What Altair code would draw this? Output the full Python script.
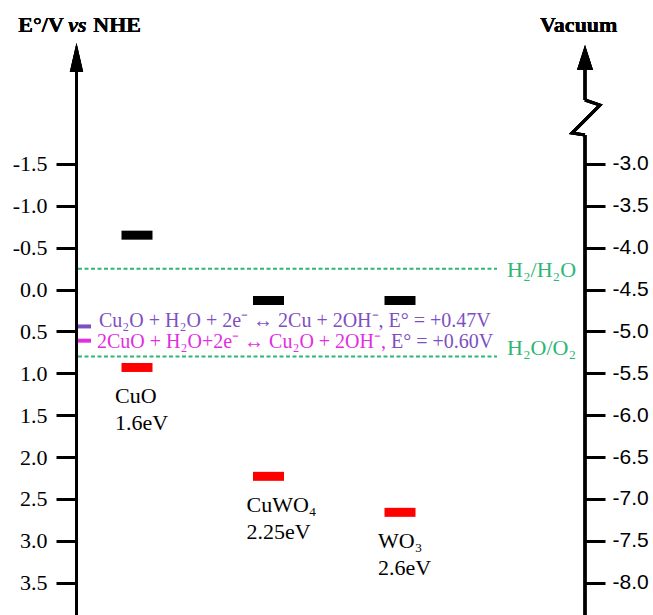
import altair as alt
import pandas as pd

# ---------------- data ----------------
materials = ["CuO", "CuWO₄", "WO₃"]
cb_edges = [-0.65, 0.13, 0.13]          # conduction band edge, V vs NHE
vb_edges = [0.93, 2.23, 2.66]           # valence band edge, V vs NHE
gap_labels = ["1.6eV", "2.25eV", "2.6eV"]

redox_names = ["H₂/H₂O", "H₂O/O₂"]
redox_potentials = [-0.25, 0.80]

reaction_texts = ["Cu₂O + H₂O + 2e⁻ ↔ 2Cu + 2OH⁻, E° = +0.47V",
                  "2CuO + H₂O+2e⁻ ↔ Cu₂O + 2OH⁻,"]
reaction_marks = [0.44, 0.61]
reaction_tail = "E° = +0.60V"

tick_values = [-1.5, -1.0, -0.5, 0.0, 0.5, 1.0, 1.5, 2.0, 2.5, 3.0, 3.5]

# ---------------- tables ----------------
bands = pd.DataFrame({"material": materials, "cb": cb_edges, "vb": vb_edges, "gap": gap_labels})
redox = pd.DataFrame({"name": redox_names, "E": redox_potentials})
reactions = pd.DataFrame({"text": reaction_texts, "E": reaction_marks, "idx": [0, 1]})

W, H = 509, 570
GREEN = "#2DB674"
PURPLE = "#7E4FC2"
MAGENTA = "#E22EE0"
SERIF = "Liberation Serif"

yscale = alt.Scale(domain=[-2.921, 3.886], reverse=True, nice=False, zero=False)
xscale = alt.Scale(type="point", domain=materials, range=[61, 324], padding=0)

left_axis = alt.Axis(orient="left", values=tick_values, domain=False, grid=False, title=None,
                     tickSize=20, tickWidth=3, tickColor="black",
                     labelFont=SERIF, labelFontSize=22, labelColor="black", labelPadding=9,
                     labelExpr="(datum.value < 0 ? '-' : '') + format(abs(datum.value), '.1f')")
right_axis = alt.Axis(orient="right", values=tick_values, domain=False, grid=False, title=None,
                      tickSize=20, tickWidth=3, tickColor="black",
                      labelFont="Liberation Sans", labelFontSize=21, labelColor="black", labelPadding=7,
                      labelExpr="'-' + format(4.5 + datum.value, '.1f')")

base = alt.Chart(bands)

cb_bars = base.mark_tick(orient="horizontal", color="black", thickness=9, size=31, opacity=1).encode(
    x=alt.X("material:N", scale=xscale, axis=None, sort=materials),
    y=alt.Y("cb:Q", scale=yscale, axis=left_axis),
)
vb_bars = base.mark_tick(orient="horizontal", color="#FF0000", thickness=9, size=31, opacity=1).encode(
    x=alt.X("material:N", scale=xscale, axis=None, sort=materials),
    y=alt.Y("vb:Q", scale=yscale, axis=right_axis),
)
name_text = base.mark_text(align="left", baseline="middle", dx=-22, dy=29,
                           font=SERIF, fontSize=22, color="black").encode(
    x=alt.X("material:N", scale=xscale, axis=None, sort=materials),
    y=alt.Y("vb:Q", scale=yscale, axis=None),
    text="material:N",
)
gap_text = base.mark_text(align="left", baseline="middle", dx=-22, dy=56,
                          font=SERIF, fontSize=22, color="black").encode(
    x=alt.X("material:N", scale=xscale, axis=None, sort=materials),
    y=alt.Y("vb:Q", scale=yscale, axis=None),
    text="gap:N",
)

redox_lines = alt.Chart(redox).mark_rule(color=GREEN, strokeWidth=2, strokeDash=[4, 2.5]).encode(
    x=alt.value(2), x2=alt.value(421),
    y=alt.Y("E:Q", scale=yscale, axis=None),
)
redox_label1 = alt.Chart(redox).transform_filter(alt.datum.name == redox_names[0]).mark_text(
    align="left", baseline="middle", font=SERIF, fontSize=22, color=GREEN, dy=1).encode(
    x=alt.value(431), y=alt.Y("E:Q", scale=yscale, axis=None), text="name:N")
redox_label2 = alt.Chart(redox).transform_filter(alt.datum.name == redox_names[1]).mark_text(
    align="left", baseline="middle", font=SERIF, fontSize=22, color=GREEN, dy=-9).encode(
    x=alt.value(431), y=alt.Y("E:Q", scale=yscale, axis=None), text="name:N")

react_marks = alt.Chart(reactions).mark_rule(strokeWidth=4).encode(
    x=alt.value(1), x2=alt.value(15),
    y=alt.Y("E:Q", scale=yscale, axis=None),
    color=alt.Color("idx:N", scale=alt.Scale(domain=[0, 1], range=[PURPLE, MAGENTA]), legend=None),
)
react_text1 = alt.Chart(reactions).transform_filter(alt.datum.idx == 0).mark_text(
    align="left", baseline="middle", font=SERIF, fontSize=20, color=PURPLE, dy=-5).encode(
    x=alt.value(23), y=alt.Y("E:Q", scale=yscale, axis=None), text="text:N")
react_text2 = alt.Chart(reactions).transform_filter(alt.datum.idx == 1).mark_text(
    align="left", baseline="middle", font=SERIF, fontSize=20, color=MAGENTA, dy=1).encode(
    x=alt.value(21), y=alt.Y("E:Q", scale=yscale, axis=None), text="text:N")
react_text3 = alt.Chart(reactions).transform_filter(alt.datum.idx == 1).mark_text(
    align="left", baseline="middle", font=SERIF, fontSize=20, color=PURPLE, dy=1, text=reaction_tail).encode(
    x=alt.value(315), y=alt.Y("E:Q", scale=yscale, axis=None))

# ---------------- axis decorations ----------------
left_line = alt.Chart(bands).mark_rule(color="black", strokeWidth=3).encode(
    x=alt.value(0.5), y=alt.value(20), y2=alt.value(H))
right_line_top = alt.Chart(bands).mark_rule(color="black", strokeWidth=3).encode(
    x=alt.value(W), y=alt.value(20), y2=alt.value(55))
right_line_bot = alt.Chart(bands).mark_rule(color="black", strokeWidth=3).encode(
    x=alt.value(W), y=alt.value(90), y2=alt.value(H))
zigzag = alt.Chart(bands).mark_point(
    shape="M-0.06,-1 L0.8,-0.71 L-0.8,0.89 L-0.06,1", filled=False, stroke="black",
    strokeWidth=3, size=1225, opacity=1).encode(x=alt.value(W + 1), y=alt.value(72.5))
left_arrow = alt.Chart(bands).mark_point(
    shape="M0,-1 L0.46,1 L-0.46,1 Z", filled=True, color="black", size=841, opacity=1).encode(
    x=alt.value(0.5), y=alt.value(12.5))
right_arrow = alt.Chart(bands).mark_point(
    shape="M0,-1 L0.64,1 L-0.64,1 Z", filled=True, color="black", size=625, opacity=1).encode(
    x=alt.value(W), y=alt.value(12.5))

title_a = alt.Chart(bands).mark_text(text="E°/V", align="left", baseline="middle", font=SERIF,
                                     fontSize=22, fontWeight="bold", color="black").encode(
    x=alt.value(-57.7), y=alt.value(-20))
title_b = alt.Chart(bands).mark_text(text="vs", align="left", baseline="middle", font=SERIF,
                                     fontSize=22, fontWeight="bold", fontStyle="italic", color="black").encode(
    x=alt.value(-7.7), y=alt.value(-20))
title_c = alt.Chart(bands).mark_text(text="NHE", align="left", baseline="middle", font=SERIF,
                                     fontSize=22, fontWeight="bold", color="black").encode(
    x=alt.value(17.3), y=alt.value(-20))
title_r = alt.Chart(bands).mark_text(text="Vacuum", align="left", baseline="middle", font=SERIF,
                                     fontSize=22, fontWeight="bold", color="black").encode(
    x=alt.value(464), y=alt.value(-20))

chart = alt.layer(
    redox_lines, cb_bars, vb_bars, name_text, gap_text,
    redox_label1, redox_label2, react_marks, react_text1, react_text2, react_text3,
    left_line, right_line_top, right_line_bot, zigzag, left_arrow, right_arrow,
    title_a, title_b, title_c, title_r,
).resolve_axis(y="independent").properties(
    width=W, height=H,
    autosize=alt.AutoSizeParams(type="none"),
    padding={"left": 76, "top": 45, "right": 68, "bottom": 0},
    background="white",
).configure_view(stroke=None)

chart.save("out.html", embed_options={"renderer": "svg", "actions": False})
